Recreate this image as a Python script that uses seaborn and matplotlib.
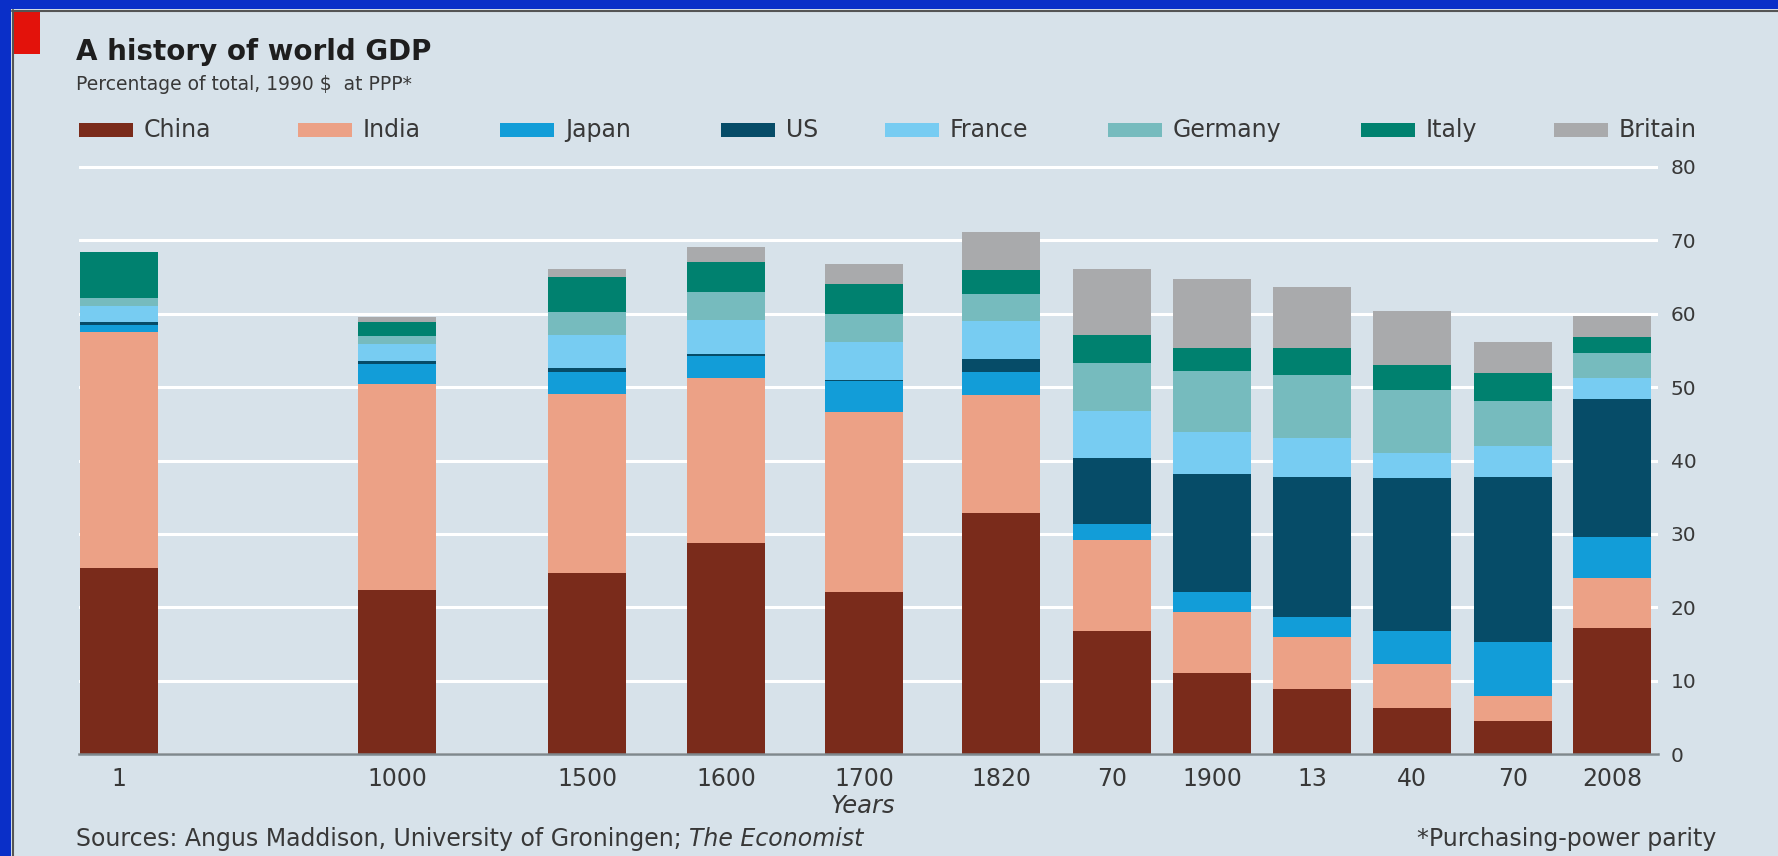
import matplotlib
matplotlib.use("Agg")
import matplotlib.pyplot as plt
from matplotlib.patches import Rectangle
from matplotlib.lines import Line2D
import seaborn as sns
import pandas as pd
import numpy as np

# ---------------- data (percentage of world GDP) -------------
years = ["1", "1000", "1500", "1600", "1700", "1820", "70", "1900", "13", "40", "70", "2008"]
china   = [25.3, 22.4, 24.7, 28.7, 22.1, 32.8, 16.8, 11.0, 8.8, 6.3, 4.5, 17.2]
india   = [32.2, 28.0, 24.4, 22.6, 24.5, 16.1, 12.3, 8.4, 7.2, 6.0, 3.4, 6.8]
japan   = [1.0, 2.7, 3.0, 3.0, 4.3, 3.1, 2.3, 2.7, 2.7, 4.4, 7.4, 5.6]
us      = [0.4, 0.4, 0.5, 0.2, 0.1, 1.8, 8.9, 16.0, 19.0, 20.9, 22.4, 18.8]
france  = [2.2, 2.4, 4.5, 4.6, 5.2, 5.2, 6.5, 5.8, 5.3, 3.4, 4.3, 2.9]
germany = [1.1, 1.1, 3.2, 3.9, 3.8, 3.7, 6.5, 8.3, 8.7, 8.6, 6.1, 3.3]
italy   = [6.2, 1.9, 4.7, 4.1, 4.0, 3.3, 3.8, 3.2, 3.6, 3.4, 3.8, 2.2]
britain = [0.0, 0.6, 1.1, 2.0, 2.8, 5.2, 9.0, 9.4, 8.3, 7.4, 4.3, 2.9]
countries = ["China", "India", "Japan", "US", "France", "Germany", "Italy", "Britain"]
y_ticks = [0, 10, 20, 30, 40, 50, 60, 70, 80]

# ---------------- layout / style ------------------------------------------------
slot_pos = [0, 2.78, 4.68, 6.07, 7.45, 8.82, 9.93, 10.93, 11.93, 12.93, 13.94, 14.93]
legend_x_px = [79, 298, 500, 721, 885, 1108, 1361, 1554]
colors = ["#7a2b1b", "#eca186", "#129dd8", "#064c68", "#77ccf2", "#76bbbe", "#00816f", "#a9aaac"]
BG = "#d7e2ea"
BLUE = "#0a2fc8"
TXT = "#383838"

W, H = 1778, 856
fig = plt.figure(figsize=(W / 100, H / 100), dpi=100, facecolor=BG)
sns.set_style("white")
plt.rcParams["font.family"] = ["DejaVu Sans"]

def fx(px):
    return px / W

def fy(py):
    return 1 - py / H

ax_left, ax_right = 79, 1658
ymax = 81
y0_px, y80_px = 754, 167
unit = (y0_px - y80_px) / 80.0
ytop_px = y0_px - ymax * unit
ax = fig.add_axes([fx(ax_left), fy(y0_px), fx(ax_right - ax_left), (y0_px - ytop_px) / H])
ax.set_facecolor(BG)

series = [china, india, japan, us, france, germany, italy, britain]
df = pd.DataFrame({"pos": slot_pos})
cum = np.zeros(len(years))
for name, vals in zip(countries, series):
    cum = cum + np.array(vals)
    df[name] = cum

for name, col in reversed(list(zip(countries, colors))):
    sns.barplot(data=df, x="pos", y=name, native_scale=True, color=col,
                width=0.79, linewidth=0, errorbar=None, saturation=1, ax=ax,
                zorder=3)

ax.set_xlim(-0.4, 14.93 + (ax_right - 1612) / 100)
ax.set_ylim(0, ymax)
ax.set_xticks(slot_pos)
ax.set_xticklabels(years)
ax.set_yticks(y_ticks)
ax.yaxis.tick_right()
ax.tick_params(axis="y", length=0, pad=9, labelsize=14.5, labelcolor=TXT)
ax.tick_params(axis="x", length=0, pad=9, labelsize=17, labelcolor=TXT)
ax.set_xlabel("")
ax.set_ylabel("")
ax.yaxis.grid(True, color="white", linewidth=2.2, zorder=0)
ax.xaxis.grid(False)
ax.set_axisbelow(True)
for s in ["top", "left", "right"]:
    ax.spines[s].set_visible(False)
ax.spines["bottom"].set_color("#7f888d")
ax.spines["bottom"].set_linewidth(1.8)
ax.spines["bottom"].set_zorder(4)

# ---------------- frame decorations -----------------------------------------------
fig.patches.append(Rectangle((0, 0), fx(11), 1, transform=fig.transFigure,
                             facecolor=BLUE, edgecolor="none", zorder=0))
fig.patches.append(Rectangle((0, fy(9)), 1, 9 / H, transform=fig.transFigure,
                             facecolor=BLUE, edgecolor="none", zorder=0))
fig.lines.append(Line2D([fx(12.5), fx(12.5)], [0, fy(9.5)], transform=fig.transFigure,
                        color="#555555", linewidth=1.5))
fig.lines.append(Line2D([fx(12), 1], [fy(10.5), fy(10.5)], transform=fig.transFigure,
                        color="#555555", linewidth=1.5))
fig.patches.append(Rectangle((fx(14), fy(54)), fx(26), (54 - 12) / H, transform=fig.transFigure,
                             facecolor="#e3120b", edgecolor="none"))

# ---------------- texts -----------------------------------------------------------
fig.text(fx(76), fy(60), "A history of world GDP", fontsize=20, fontweight="bold",
         color="#1e1e1e", va="baseline", ha="left")
fig.text(fx(76), fy(90), "Percentage of total, 1990 $  at PPP*", fontsize=13.5,
         color=TXT, va="baseline", ha="left")

# legend (manual row of swatches)
for name, col, lx in zip(countries, colors, legend_x_px):
    fig.patches.append(Rectangle((fx(lx), fy(137)), fx(54), 14 / H,
                                 transform=fig.transFigure, facecolor=col,
                                 edgecolor="none"))
    fig.text(fx(lx + 65), fy(130), name, fontsize=17, color=TXT,
             ha="left", va="center")

fig.text(fx(863), fy(806), "Years", fontsize=17.5, style="italic", color=TXT,
         ha="center", va="center")
src = "Sources: Angus Maddison, University of Groningen; "
t = fig.text(fx(76), fy(839), src, fontsize=17, color=TXT, ha="left", va="center")
fig.canvas.draw()
bb = t.get_window_extent()
fig.text(bb.x1 / W, fy(839), "The Economist", fontsize=17, style="italic",
         color=TXT, ha="left", va="center")
fig.text(fx(1716), fy(839), "*Purchasing-power parity", fontsize=17, color=TXT,
         ha="right", va="center")

fig.savefig("out.png", dpi=100, facecolor=BG)
